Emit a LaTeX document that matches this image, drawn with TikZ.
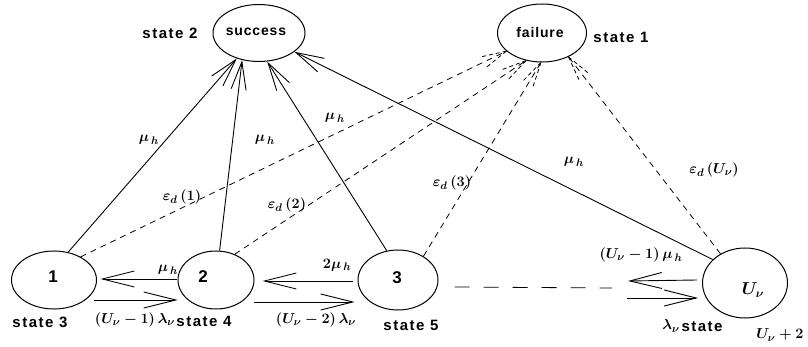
\documentclass[tikz,border=0pt]{standalone}
\usepackage{fontspec}
\newfontfamily\labfont[LetterSpace=6]{Liberation Sans}
\newfontfamily\stfont[LetterSpace=10]{Liberation Sans}
\usetikzlibrary{shapes.geometric,arrows.meta,calc}
\begin{document}
\begin{tikzpicture}[x=1pt,y=-1pt,
  st/.style={ellipse,draw,line width=1pt,inner sep=0pt},
  sline/.style={line width=0.9pt,-{Straight Barb[length=28pt,width=15pt]}},
  hline/.style={line width=0.9pt,-{Straight Barb[length=32pt,width=16pt]}},
  dline/.style={line width=0.8pt,dash pattern=on 6pt off 5pt},
  ddash/.style={line width=0.8pt,dash pattern=on 15pt off 14pt},
  dbarb/.style={line width=0.8pt,dash pattern=on 4pt off 3pt},
  lab/.style={font=\labfont\bfseries\fontsize{14}{16}\selectfont,inner sep=0pt},
  stl/.style={font=\stfont\bfseries\fontsize{15}{17}\selectfont,inner sep=0pt},
  num/.style={font=\labfont\bfseries\fontsize{17}{19}\selectfont,inner sep=0pt},
  mth/.style={font=\fontsize{15}{17}\selectfont\boldmath,inner sep=0pt}]
\useasboundingbox (0,0) rectangle (808,347);

% states
\node[st,minimum width=92pt,minimum height=57pt] (succ) at (259,33) {};
\node[st,minimum width=89pt,minimum height=58pt] (fail) at (542,33) {};
\node[st,minimum width=85pt,minimum height=58pt] (n1) at (54,280) {};
\node[st,minimum width=76pt,minimum height=58pt] (n2) at (216,280) {};
\node[st,minimum width=80pt,minimum height=60pt] (n3) at (398,280) {};
\node[st,minimum width=85pt,minimum height=70pt] (nU) at (745,283) {};

% texts in states
\node[lab] (tsucc) at (256,32) {success};
\node[lab] (tfail) at (540,32) {failure};
\node[num] (t1) at (53,277) {1};
\node[num] (t2) at (203,277) {2};
\node[num] (t3) at (397,278) {3};
\node[mth,font=\fontsize{17}{19}\selectfont\boldmath] (tU) at (753,290) {$U_{\nu}$};

% state labels
\node[stl] (s2) at (170,33) {state 2};
\node[stl] (s1) at (621,37) {state 1};
\node[stl] (s3) at (40,322) {state 3};
\node[stl] (s4) at (204,321) {state 4};
\node[stl] (s5) at (411,325) {state 5};
\node[stl] (sU) at (702,327) {state};

% solid arrows to success
\draw[sline] (n1.63) -- (succ.229);
\draw[sline] (n2.83) -- (succ.238);
\draw[sline] (n3.111) -- (succ.286);
\draw[sline] (nU.144) -- (succ.332);

% dashed arrows to failure
\draw[dline] (n1.41) -- (fail.207);
\draw[dbarb] (fail.207) -- ($(fail.207)!28pt!13:(n1.41)$);
\draw[dbarb] (fail.207) -- ($(fail.207)!28pt!-13:(n1.41)$);
\draw[dline] (n2.54) -- (fail.240);
\draw[dbarb] (fail.240) -- ($(fail.240)!28pt!13:(n2.54)$);
\draw[dbarb] (fail.240) -- ($(fail.240)!28pt!-13:(n2.54)$);
\draw[dline] (n3.43) -- (fail.268);
\draw[dbarb] (fail.268) -- ($(fail.268)!28pt!13:(n3.43)$);
\draw[dbarb] (fail.268) -- ($(fail.268)!28pt!-13:(n3.43)$);
\draw[dline] (nU.130) -- (fail.318);
\draw[dbarb] (fail.318) -- ($(fail.318)!28pt!13:(nU.130)$);
\draw[dbarb] (fail.318) -- ($(fail.318)!28pt!-13:(nU.130)$);

% horizontal transitions
\draw[hline] ($(n2.west)+(-1,-1)$) -- ($(n1.east)+(3.5,-1)$);
\draw[hline] ($(n1.east)+(-3.5,20)$) -- ($(n2.west)+(0,20)$);
\draw[hline] ($(n3.west)+(-5,1)$) -- ($(n2.east)+(8,1)$);
\draw[hline] ($(n2.east)+(-1,22)$) -- ($(n3.west)+(-3,22)$);
\coordinate (dend) at (612,288);
\draw[ddash] ($(n3.east)+(16,7)$) -- (dend);
\coordinate (uleft) at (628,281);
\coordinate (lleft) at (627,298);
\draw[hline] ($(nU.west)+(-5,-3)$) -- (uleft);
\draw[hline] (lleft) -- ($(nU.west)+(-4,15)$);

% rate labels
\node[mth] (m1) at (149,140) {$\mu_{\,h}$};
\node[mth] (m2) at (265,140) {$\mu_{\,h}$};
\node[mth] (m3) at (335,118) {$\mu_{\,h}$};
\node[mth] (m4) at (574,162) {$\mu_{\,h}$};
\node[mth] (e1) at (182,197) {$\varepsilon_{d}\,(1)$};
\node[mth] (e2) at (287,205) {$\varepsilon_{d}\,(2)$};
\node[mth] (e3) at (452,183) {$\varepsilon_{d}\,(3)$};
\node[mth] (eU) at (714,170) {$\varepsilon_{d}\,(U_{\nu})$};
\node[mth] (h21) at (168,270) {$\mu_{\,h}$};
\node[mth] (l12) at (135,320) {$(U_{\nu}-1)\,\lambda_{\nu}$};
\node[mth] (h32) at (337,265) {$2\mu_{\,h}$};
\node[mth] (l23) at (316,320) {$(U_{\nu}-2)\,\lambda_{\nu}$};
\node[mth] (hU) at (641,255) {$(U_{\nu}-1)\,\mu_{\,h}$};
\node[mth] (lU) at (671,326) {$\lambda_{\nu}$};
\node[mth] (U2) at (780,335) {$U_{\nu}+2$};
\end{tikzpicture}
\end{document}
